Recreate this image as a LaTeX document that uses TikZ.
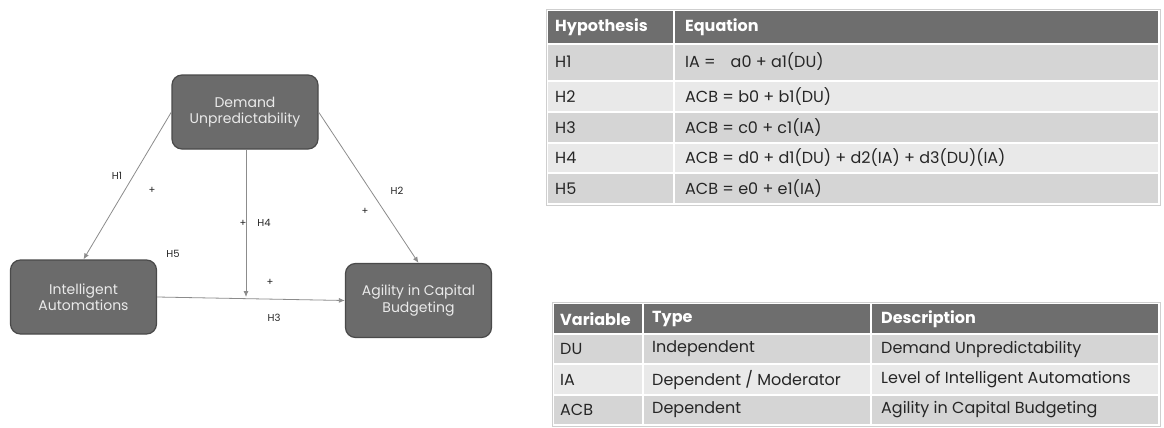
\documentclass[tikz,border=0pt]{standalone}
\usepackage{fontspec}
\setmainfont{Poppins}
\usetikzlibrary{arrows.meta}

\definecolor{boxfill}{HTML}{6B6B6B}
\definecolor{boxline}{HTML}{4A4A4A}
\definecolor{boxtext}{HTML}{EAEAEA}
\definecolor{arrowgray}{HTML}{8C8C8C}
\definecolor{hdrgray}{HTML}{6E6E6E}
\definecolor{rowdark}{HTML}{D5D5D5}
\definecolor{rowlight}{HTML}{E9E9E9}
\definecolor{tabborder}{HTML}{CFCFCF}
\definecolor{cellink}{HTML}{262626}

\tikzset{
  construct/.style={draw=boxline, line width=1.2pt, fill=boxfill, rounded corners=10pt,
    minimum width=146pt, minimum height=74pt, text=boxtext, align=center,
    font=\fontsize{14}{16.5}\selectfont, inner sep=0pt},
  path link/.style={draw=arrowgray, line width=0.8pt, -{Latex[length=6pt,width=5pt]}},
  hyplabel/.style={font=\fontsize{10}{12}\selectfont, text=black!85, inner sep=0pt},
  hdrcell/.style={fill=hdrgray, draw=white, line width=1.5pt},
  darkcell/.style={fill=rowdark, draw=white, line width=1.5pt},
  lightcell/.style={fill=rowlight, draw=white, line width=1.5pt},
  hdrtext/.style={anchor=west, text=white, font=\fontsize{16}{18}\selectfont\bfseries, inner sep=0pt},
  celltext/.style={anchor=west, text=cellink, font=\fontsize{16}{18}\selectfont, inner sep=0pt},
}

\begin{document}
\begin{tikzpicture}[x=1pt, y=-1pt]
\useasboundingbox (0,0) rectangle (1164,428);
\fill[white] (0,0) rectangle (1164,428);

% ---------- research model ----------
\node[construct] (du) at (245,112) {Demand\\Unpredictability};
\node[construct] (ia) at (83.5,297) {Intelligent\\Automations};
\node[construct] (acb) at (418.5,300.5) {Agility in Capital\\Budgeting};
\coordinate (mod) at (246,297);

\draw[path link] (du.west) -- (ia.north);
\draw[path link] (du.east) -- (acb.north);
\draw[path link] (du.south -| mod) -- (mod);
\draw[path link] (ia.east) -- (acb.west);

\node[hyplabel] (lh1) at (117,176) {H1};
\node[hyplabel] (p1) at (152,190) {+};
\node[hyplabel] (lh2) at (397,191) {H2};
\node[hyplabel] (p2) at (365,211) {+};
\node[hyplabel] (p4) at (243,223) {+};
\node[hyplabel] (lh4) at (264,223) {H4};
\node[hyplabel] (lh5) at (173,254) {H5};
\node[hyplabel] (p5) at (270,282) {+};
\node[hyplabel] (lh3) at (274,318) {H3};

% ---------- hypotheses table ----------
\path[hdrcell] (547,10) rectangle (674,44);
\path[hdrcell] (674,10) rectangle (1159,44);
\path[darkcell] (547,44) rectangle (674,81);
\path[darkcell] (674,44) rectangle (1159,81);
\path[lightcell] (547,81) rectangle (674,112);
\path[lightcell] (674,81) rectangle (1159,112);
\path[darkcell] (547,112) rectangle (674,143);
\path[darkcell] (674,112) rectangle (1159,143);
\path[lightcell] (547,143) rectangle (674,173);
\path[lightcell] (674,143) rectangle (1159,173);
\path[darkcell] (547,173) rectangle (674,204);
\path[darkcell] (674,173) rectangle (1159,204);
\draw[tabborder, line width=0.6pt] (546,9) rectangle (1160,205);

\node[hdrtext] (th1) at (555,27) {Hypothesis};
\node[hdrtext] (th2) at (685,27) {Equation};
\node[celltext] (r1a) at (555,62) {H1};
\node[celltext] (r1b) at (685,62) {IA =\enspace\, a0 + a1(DU)};
\node[celltext] (r2a) at (555,97) {H2};
\node[celltext] (r2b) at (685,97) {ACB = b0 + b1(DU)};
\node[celltext] (r3a) at (555,128) {H3};
\node[celltext] (r3b) at (685,128) {ACB = c0 + c1(IA)};
\node[celltext] (r4a) at (555,158) {H4};
\node[celltext] (r4b) at (685,158) {ACB = d0 + d1(DU) + d2(IA) + d3(DU)(IA)};
\node[celltext] (r5a) at (555,189) {H5};
\node[celltext] (r5b) at (685,189) {ACB = e0 + e1(IA)};

% ---------- variables table ----------
\path[hdrcell] (553,303) rectangle (643,334);
\path[hdrcell] (643,303) rectangle (871,334);
\path[hdrcell] (871,303) rectangle (1159,334);
\path[darkcell] (553,334) rectangle (643,364);
\path[darkcell] (643,334) rectangle (871,364);
\path[darkcell] (871,334) rectangle (1159,364);
\path[lightcell] (553,364) rectangle (643,395);
\path[lightcell] (643,364) rectangle (871,395);
\path[lightcell] (871,364) rectangle (1159,395);
\path[darkcell] (553,395) rectangle (643,425);
\path[darkcell] (643,395) rectangle (871,425);
\path[darkcell] (871,395) rectangle (1159,425);
\draw[tabborder, line width=0.6pt] (552,302) rectangle (1160,426);

\node[hdrtext] (tv1) at (560,319) {Variable};
\node[hdrtext] (tv2) at (652,319) {Type};
\node[hdrtext] (tv3) at (881,319) {Description};
\node[celltext] (v1a) at (560,349) {DU};
\node[celltext] (v1b) at (652,349) {Independent};
\node[celltext] (v1c) at (881,349) {Demand Unpredictability};
\node[celltext] (v2a) at (560,380) {IA};
\node[celltext] (v2b) at (652,380) {Dependent / Moderator};
\node[celltext] (v2c) at (881,380) {Level of Intelligent Automations};
\node[celltext] (v3a) at (560,410) {ACB};
\node[celltext] (v3b) at (652,410) {Dependent};
\node[celltext] (v3c) at (881,410) {Agility in Capital Budgeting};
\end{tikzpicture}
\end{document}
